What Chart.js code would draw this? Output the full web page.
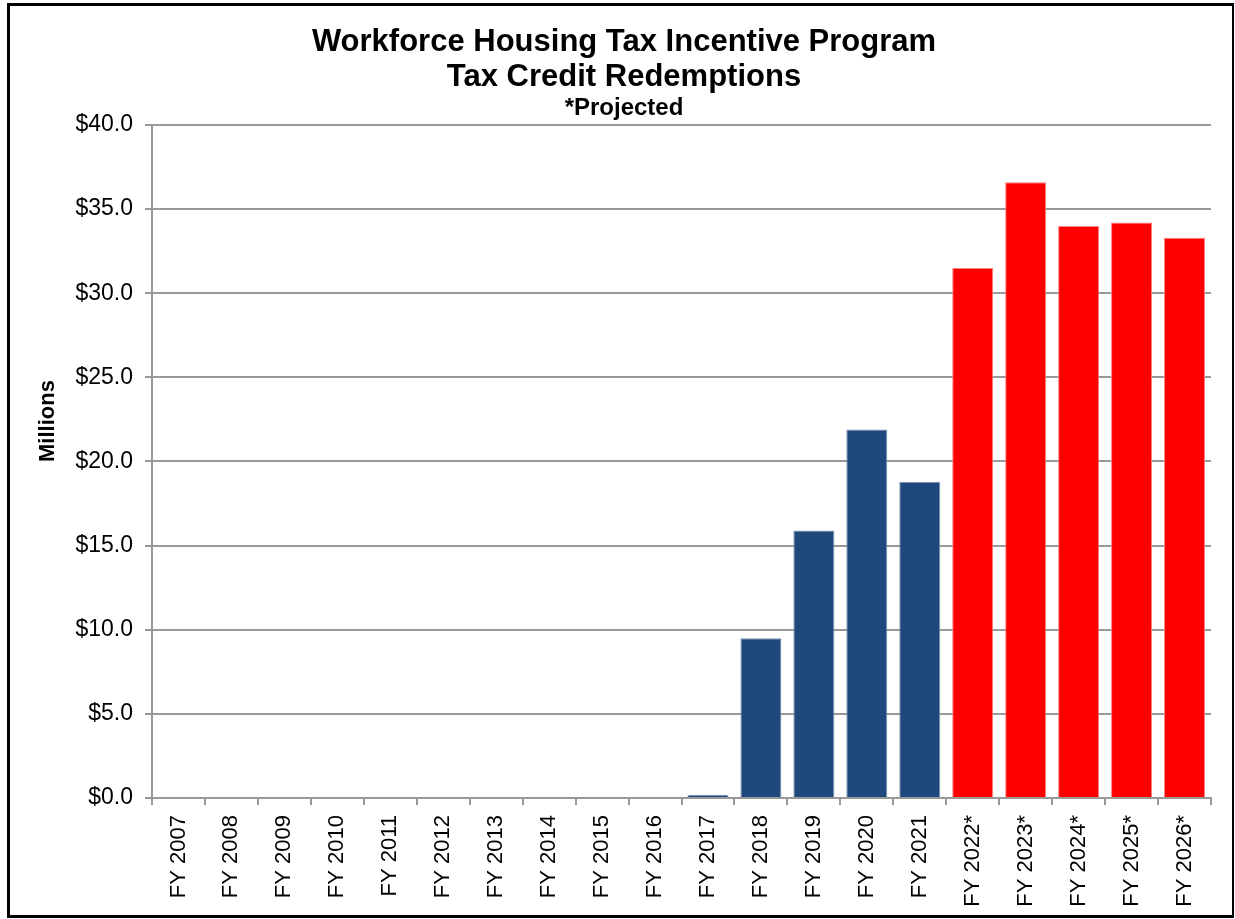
<!DOCTYPE html>
<html>
<head>
<meta charset="utf-8">
<script src="https://cdn.jsdelivr.net/npm/chart.js@4"></script>
<style>
  html, body { margin: 0; padding: 0; background: #ffffff; }
  #wrap { position: relative; width: 1235px; height: 919px; }
  #frame { position: absolute; left: 7px; top: 3px; width: 1227px; height: 915px; box-sizing: border-box;
           border: 3px solid #000; border-right-width: 2px; pointer-events: none; }
  canvas { position: absolute; left: 0; top: 0; }
</style>
</head>
<body>
<div id="wrap">
  <canvas id="c" width="1235" height="919"></canvas>
  <div id="frame"></div>
</div>
<script>
const categories = ["FY 2007","FY 2008","FY 2009","FY 2010","FY 2011","FY 2012","FY 2013","FY 2014","FY 2015","FY 2016","FY 2017","FY 2018","FY 2019","FY 2020","FY 2021","FY 2022*","FY 2023*","FY 2024*","FY 2025*","FY 2026*"];
const redemptions = [0,0,0,0,0,0,0,0,0,0,0.2,9.5,15.9,21.9,18.8,31.5,36.6,34.0,34.2,33.3];
const projected = [false,false,false,false,false,false,false,false,false,false,false,false,false,false,false,true,true,true,true,true];
const titleLines = ["Workforce Housing Tax Incentive Program","Tax Credit Redemptions"];
const subtitleText = "*Projected";
const yAxisTitle = "Millions";
const yTicks = { min: 0, max: 40, step: 5 };

const FONT = "'Liberation Sans', Arial, Helvetica, sans-serif";
const GRID = "#999999";

// Vertical axis title, placed like the original (slightly above the plot's middle)
const yTitlePlugin = {
  id: 'yTitle',
  afterDraw(chart) {
    const { ctx, chartArea } = chart;
    const y = chartArea.top + (chartArea.bottom - chartArea.top) * 0.44;
    ctx.save();
    ctx.translate(48, y);
    ctx.rotate(-Math.PI / 2);
    ctx.font = "bold 22px " + FONT;
    ctx.fillStyle = '#000';
    ctx.textAlign = 'center';
    ctx.textBaseline = 'middle';
    ctx.fillText(yAxisTitle, 0, 0);
    ctx.restore();
  }
};

new Chart(document.getElementById('c'), {
  type: 'bar',
  data: {
    labels: categories,
    datasets: [{
      data: redemptions,
      backgroundColor: projected.map(p => p ? '#FF0000' : '#1F497D'),
      borderColor: projected.map(p => p ? '#FF8080' : '#7F95B5'),
      borderWidth: 1,
      borderSkipped: 'bottom',
      barPercentage: 0.775,
      categoryPercentage: 1.0
    }]
  },
  plugins: [yTitlePlugin],
  options: {
    responsive: false,
    animation: false,
    devicePixelRatio: 1,
    layout: { padding: { left: 37, right: 24, top: 0, bottom: 0 } },
    plugins: {
      legend: { display: false },
      tooltip: { enabled: false },
      title: {
        display: true,
        text: titleLines,
        color: '#000',
        font: { family: FONT, size: 31, weight: 'bold', lineHeight: 1.16 },
        padding: { top: 24, bottom: 0 }
      },
      subtitle: {
        display: true,
        text: subtitleText,
        color: '#000',
        font: { family: FONT, size: 24, weight: 'bold', lineHeight: 1.0 },
        padding: { top: 0, bottom: 5 }
      }
    },
    scales: {
      x: {
        grid: { display: true, offset: true, drawOnChartArea: false, drawTicks: true, tickLength: 7, color: GRID, lineWidth: 2 },
        border: { display: true, color: GRID, width: 2 },
        ticks: { color: '#000', font: { family: FONT, size: 22 }, minRotation: 90, maxRotation: 90, padding: 10, autoSkip: false },
        afterFit: s => { s.height = 121; }
      },
      y: {
        min: yTicks.min, max: yTicks.max,
        grid: { color: GRID, lineWidth: 2, tickLength: 7, drawTicks: true },
        border: { display: true, color: GRID, width: 2 },
        ticks: { stepSize: yTicks.step, color: '#000', padding: 12, font: { family: FONT, size: 23 },
                 callback: v => '$' + Number(v).toFixed(1) },
        title: { display: false },
        afterFit: s => { s.width = 115; }
      }
    }
  }
});
</script>
</body>
</html>
